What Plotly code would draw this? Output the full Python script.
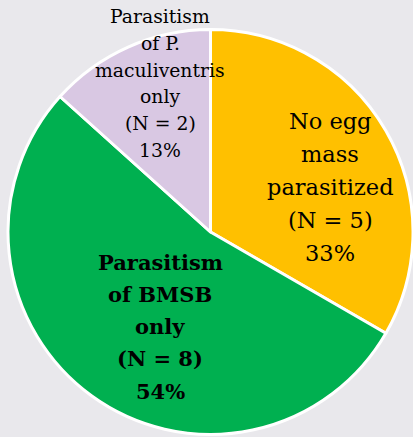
import plotly.graph_objects as go

W, H = 413, 437

# Data
categories = ["No egg mass parasitized", "Parasitism of BMSB only",
              "Parasitism of P. maculiventris only"]
label_lines = [["No egg", "mass", "parasitized"],
               ["Parasitism", "of BMSB", "only"],
               ["Parasitism", "of P.", "maculiventris", "only"]]
counts = [5, 8, 2]
percent_labels = ["33%", "54%", "13%"]
colors = ["#FFC000", "#00B050", "#D9C8E3"]

# label styling / placement (pixels from top-left): centre x, first-line y, line step
label_pos = [(330, 121, 33), (160, 262, 32.3), (160, 17, 26.6)]
label_sizes = [22.5, 21, 18.8]
label_bold = [False, True, False]

cx, cy, r = 210.5, 232, 202.5

fig = go.Figure(go.Pie(
    labels=categories,
    values=counts,
    sort=False,
    direction="clockwise",
    rotation=0,
    marker=dict(colors=colors, line=dict(color="white", width=3)),
    textinfo="none",
    hoverinfo="label+value+percent",
    showlegend=False,
    domain=dict(x=[(cx - r) / W, min(1, (cx + r) / W)],
                y=[(H - cy - r) / H, (H - cy + r) / H]),
))

for lines, n, pct, (x, y0, step), size, bold in zip(label_lines, counts, percent_labels,
                                                     label_pos, label_sizes, label_bold):
    all_lines = lines + [f"(N = {n})", pct]
    for i, line in enumerate(all_lines):
        text = f"<b>{line}</b>" if bold else line
        fig.add_annotation(
            x=x / W, y=1 - (y0 + i * step) / H, xref="paper", yref="paper",
            text=text, showarrow=False, align="center",
            xanchor="center", yanchor="middle",
            font=dict(family="DejaVu Serif", size=size, color="black"),
        )

fig.update_layout(
    width=W, height=H,
    margin=dict(l=0, r=0, t=0, b=0),
    paper_bgcolor="#E9E8EC",
    plot_bgcolor="#E9E8EC",
)

fig.write_html("out.html", config={"displayModeBar": False},
               post_script="document.body.style.margin='0';document.body.style.background='#E9E8EC';")
